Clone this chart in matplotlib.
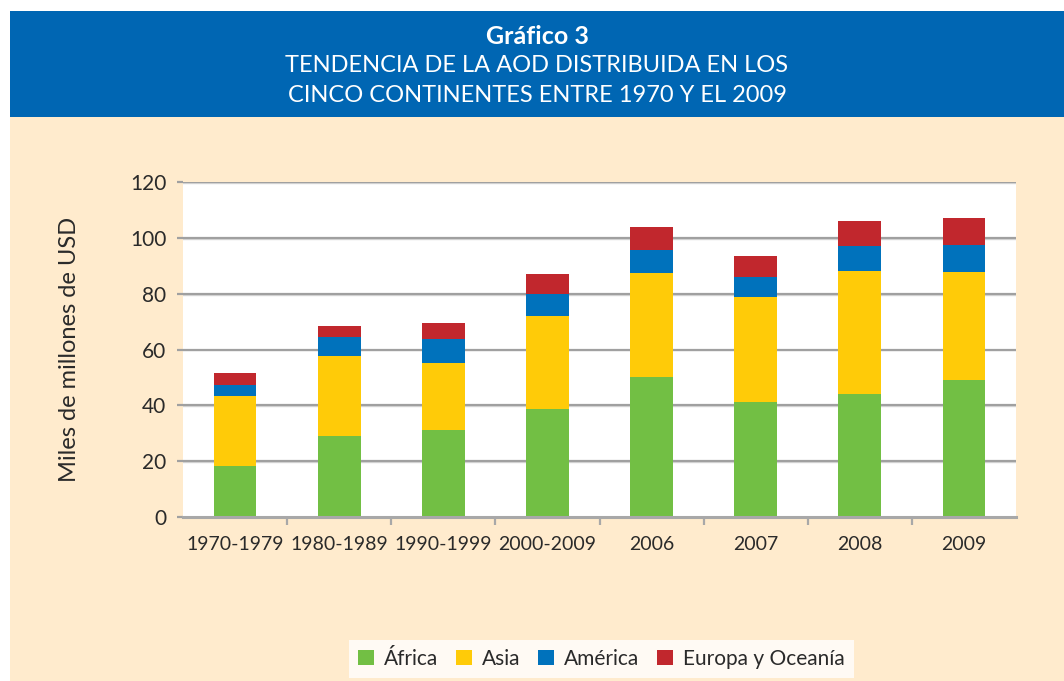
import matplotlib
matplotlib.use("Agg")
import matplotlib.pyplot as plt
from matplotlib.patches import Rectangle, Patch
import numpy as np

categories = ["1970-1979", "1980-1989", "1990-1999", "2000-2009", "2006", "2007", "2008", "2009"]
africa = [18.1, 28.9, 31.3, 38.8, 50.2, 41.3, 44.2, 49.2]
asia = [25.1, 28.8, 23.9, 33.2, 37.2, 37.5, 43.9, 38.5]
america = [4.2, 6.6, 8.6, 7.9, 8.3, 7.2, 9.0, 9.7]
europa = [4.3, 4.2, 5.7, 7.1, 8.1, 7.5, 8.9, 9.6]
series_names = ["África", "Asia", "América", "Europa y Oceanía"]
yticks = [0, 20, 40, 60, 80, 100, 120]

colors = ["#72BF44", "#FFCB08", "#0072BC", "#C1272D"]
beige = "#FFEBCD"
header_blue = "#0066B3"
text_col = "#2a2a2a"
font = ["Lato", "DejaVu Sans"]

W, H = 1064, 681
fig = plt.figure(figsize=(W / 100, H / 100), dpi=100)
fig.patch.set_facecolor("white")

# background panels
fig.add_artist(Rectangle((10 / W, 0), 1 - 10 / W, 1 - 117 / H, transform=fig.transFigure,
                         facecolor=beige, edgecolor="none", zorder=-10))
fig.add_artist(Rectangle((10 / W, 1 - 117 / H), 1 - 10 / W, (117 - 11) / H, transform=fig.transFigure,
                         facecolor=header_blue, edgecolor="none", zorder=-10))

cx = (10 + W) / 2 / W
fig.text(cx, 1 - 36 / H, "Gráfico 3", ha="center", va="center", color="white",
         fontsize=18, fontweight="bold", family=font)
fig.text(cx, 1 - 66 / H, "TENDENCIA DE LA AOD DISTRIBUIDA EN LOS", ha="center", va="center",
         color="white", fontsize=17, family=font)
fig.text(cx, 1 - 96 / H, "CINCO CONTINENTES ENTRE 1970 Y EL 2009", ha="center", va="center",
         color="white", fontsize=17, family=font)

ax = fig.add_axes([183 / W, 1 - 517 / H, (1016 - 183) / W, (517 - 182) / H])
ax.set_zorder(2)
ax.set_facecolor("white")

x = np.arange(len(categories))
bottom = np.zeros(len(categories))
handles = []
for vals, col, name in zip([africa, asia, america, europa], colors, series_names):
    ax.bar(x, vals, width=0.41, bottom=bottom, color=col, edgecolor="none", zorder=3)
    bottom += np.array(vals)
    handles.append(Patch(facecolor=col, edgecolor="none", label=name))

ax.set_xlim(-0.5, len(categories) - 0.5)
ax.set_ylim(0, 120)
ax.set_yticks(yticks)
ax.set_yticklabels([str(v) for v in yticks], family=font, fontsize=15, color=text_col)
for yv in yticks[1:]:
    ax.axhline(yv - 0.35, color="#d8d8d8", lw=1.0, zorder=1)
    ax.axhline(yv, color="#a0a0a0", lw=1.6, zorder=2)

ax.set_xticks(x)
ax.set_xticklabels(categories, family=font, fontsize=14, color=text_col)
ax.set_xticks(np.arange(0.5, len(categories) - 0.5, 1), minor=True)
ax.tick_params(axis="x", which="major", length=0, pad=14)
ax.tick_params(axis="x", which="minor", length=6, width=1.6, color="#a8a8a8", direction="out")
ax.tick_params(axis="y", length=4, width=1.6, color="#a0a0a0", pad=8)

for s in ["top", "right", "left"]:
    ax.spines[s].set_visible(False)
ax.spines["bottom"].set_color("#a8a8a8")
ax.spines["bottom"].set_linewidth(2.2)
ax.spines["bottom"].set_zorder(4)

ax.set_ylabel("Miles de millones de USD", family=font, fontsize=17, color=text_col)
ax.yaxis.set_label_coords(-(183 - 80) / (1016 - 183), 0.5)

leg = fig.legend(handles=handles, loc="center", bbox_to_anchor=(601.5 / W, 1 - 659 / H),
                 ncol=4, frameon=True, fancybox=False, handlelength=0.75, handleheight=0.75,
                 handletextpad=0.5, columnspacing=0.85, borderpad=0.45,
                 prop={"family": font, "size": 15})
leg.set_zorder(5)
leg.get_frame().set_facecolor("white")
leg.get_frame().set_edgecolor("none")
for t in leg.get_texts():
    t.set_color(text_col)

fig.savefig("out.png", dpi=100, facecolor=fig.get_facecolor())
